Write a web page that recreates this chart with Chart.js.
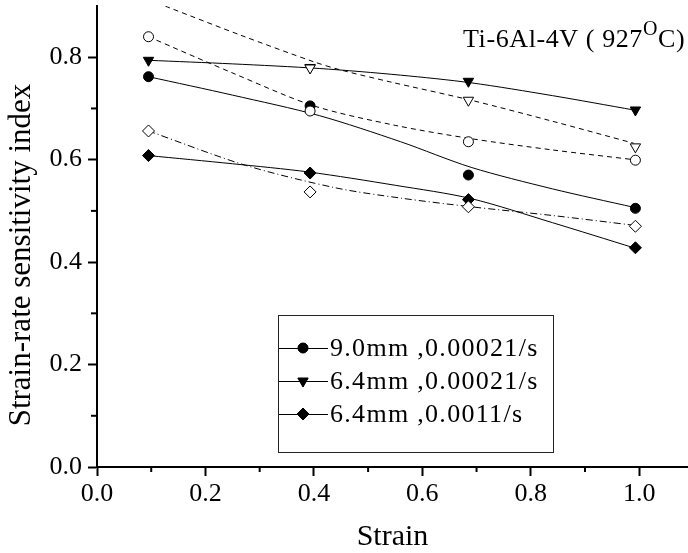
<!DOCTYPE html>
<html>
<head>
<meta charset="utf-8">
<script src="https://cdn.jsdelivr.net/npm/chart.js@4.4.1/dist/chart.umd.min.js"></script>
<style>
  html, body { margin: 0; padding: 0; background: #fff; }
  #wrap { width: 688px; height: 553px; position: relative; }
</style>
</head>
<body>
<div id="wrap"><canvas id="chart" width="688" height="553"></canvas></div>
<script>
const FONT = "'Liberation Serif', 'Times New Roman', serif";

// measured points (strain vs m)
const strainPts = [0.095, 0.393, 0.685, 0.993];
const fill90_21 = [0.762, 0.705, 0.570, 0.505];   // 9.0mm, 0.00021/s
const fill64_21 = [0.794, 0.780, 0.753, 0.697];   // 6.4mm, 0.00021/s
const fill64_11 = [0.608, 0.574, 0.522, 0.428];   // 6.4mm, 0.0011/s
const openCirc = [0.840, 0.695, 0.635, 0.599];
const openTri = [null, 0.779, 0.716, 0.625];
const openDiam = [0.656, 0.537, 0.508, 0.470];

// fitted curves
const fitCircX = [0.095, 0.25, 0.41, 0.56, 0.69, 0.84, 0.99];
const fitCircY = [0.762, 0.726, 0.686, 0.635, 0.585, 0.543, 0.507];
const fitTriX = [0.095, 0.25, 0.41, 0.56, 0.69, 0.84, 0.99];
const fitTriY = [0.794, 0.787, 0.778, 0.765, 0.750, 0.725, 0.697];
const fitDiamX = [0.095, 0.25, 0.39, 0.55, 0.69, 0.84, 0.99];
const fitDiamY = [0.608, 0.592, 0.576, 0.550, 0.524, 0.477, 0.428];
const fitOCircX = [0.095, 0.255, 0.40, 0.55, 0.69, 0.84, 0.99];
const fitOCircY = [0.840, 0.767, 0.705, 0.667, 0.641, 0.619, 0.600];
const fitOTriX = [0.095, 0.13, 0.265, 0.40, 0.45, 0.54, 0.69, 0.84, 0.99];
const fitOTriY = [0.912, 0.898, 0.843, 0.791, 0.775, 0.752, 0.716, 0.675, 0.632];
const fitODiamX = [0.095, 0.274, 0.44, 0.56, 0.69, 0.84, 0.99];
const fitODiamY = [0.656, 0.589, 0.545, 0.525, 0.508, 0.491, 0.472];

const xTicks = [0, 0.1, 0.2, 0.3, 0.4, 0.5, 0.6, 0.7, 0.8, 0.9, 1.0];
const yTicks = [0, 0.1, 0.2, 0.3, 0.4, 0.5, 0.6, 0.7, 0.8];

const legendLabels = ['9.0mm ,0.00021/s', '6.4mm ,0.00021/s', '6.4mm ,0.0011/s'];

function pts(xs, ys) {
  const out = [];
  xs.forEach(function(x, i) { if (ys[i] != null) out.push({x: x, y: ys[i]}); });
  return out;
}

function curve(xs, ys, dash, ord) {
  return {
    data: pts(xs, ys), showLine: true, borderColor: '#000', borderWidth: 1,
    borderDash: dash, pointRadius: 0, tension: 0.3, fill: false, order: ord
  };
}

function marks(ys, style, filled, r, rot, ord) {
  return {
    data: pts(strainPts, ys), showLine: false, pointStyle: style, pointRadius: r,
    pointRotation: rot, pointBackgroundColor: filled ? '#000' : '#fff',
    pointBorderColor: '#000', pointBorderWidth: 1, order: ord
  };
}

const isMajor = v => Math.round(v * 10) % 2 === 0;

// minor ticks, y title, inside title and legend box
const extras = {
  id: 'extras',
  afterDraw(chart) {
    const ctx = chart.ctx;
    const xs = chart.scales.x, ys = chart.scales.y;
    ctx.save();
    ctx.strokeStyle = '#000';
    ctx.lineWidth = 2;
    xTicks.forEach(v => {
      if (isMajor(v)) return;
      const px = xs.getPixelForValue(v);
      ctx.beginPath(); ctx.moveTo(px, xs.top); ctx.lineTo(px, xs.top + 5); ctx.stroke();
    });
    yTicks.forEach(v => {
      if (isMajor(v)) return;
      const py = ys.getPixelForValue(v);
      ctx.beginPath(); ctx.moveTo(ys.right, py); ctx.lineTo(ys.right - 6, py); ctx.stroke();
    });

    // y axis title
    ctx.fillStyle = '#000';
    ctx.font = '31px ' + FONT;
    ctx.textAlign = 'center';
    ctx.textBaseline = 'middle';
    ctx.translate(22, 255);
    ctx.rotate(-Math.PI / 2);
    ctx.fillText('Strain-rate sensitivity index', 0, 0);
    ctx.restore();

    // title inside the plot
    ctx.save();
    ctx.fillStyle = '#000';
    ctx.textBaseline = 'alphabetic';
    ctx.textAlign = 'left';
    ctx.letterSpacing = '0.6px';
    let x = 463, base = 47;
    ctx.font = '26px ' + FONT;
    const t1 = 'Ti-6Al-4V ( 927';
    ctx.fillText(t1, x, base);
    x += ctx.measureText(t1).width;
    ctx.font = '20px ' + FONT;
    ctx.fillText('O', x, base - 12);
    x += ctx.measureText('O').width;
    ctx.font = '26px ' + FONT;
    ctx.fillText('C)', x, base);
    ctx.restore();

    // legend
    ctx.save();
    ctx.strokeStyle = '#222';
    ctx.lineWidth = 1;
    ctx.strokeRect(278.5, 315.5, 275, 137);
    const styles = ['circle', 'triangle', 'rectRot'];
    const rads = [5, 6, 6];
    const rots = [0, 180, 0];
    legendLabels.forEach((lab, i) => {
      const y = 348 + i * 33;
      ctx.strokeStyle = '#000';
      ctx.lineWidth = 1;
      ctx.beginPath(); ctx.moveTo(279, y + 0.5); ctx.lineTo(328, y + 0.5); ctx.stroke();
      ctx.fillStyle = '#000';
      Chart.helpers.drawPoint(ctx, {pointStyle: styles[i], radius: rads[i], rotation: rots[i], borderWidth: 1}, 303, y);
      ctx.fill();
      ctx.font = '26px ' + FONT;
      ctx.letterSpacing = '1.3px';
      ctx.textAlign = 'left';
      ctx.textBaseline = 'middle';
      ctx.fillText(lab, 330, y + 1);
    });
    ctx.restore();
  }
};

new Chart(document.getElementById('chart'), {
  type: 'scatter',
  data: {
    datasets: [
      curve(fitCircX, fitCircY, [], 20),
      curve(fitTriX, fitTriY, [], 20),
      curve(fitDiamX, fitDiamY, [], 20),
      curve(fitOCircX, fitOCircY, [5, 4], 20),
      curve(fitOTriX, fitOTriY, [5, 4], 20),
      curve(fitODiamX, fitODiamY, [7, 3, 1, 3], 20),
      marks(fill90_21, 'circle', true, 5, 0, 10),
      marks(fill64_21, 'triangle', true, 6, 180, 10),
      marks(fill64_11, 'rectRot', true, 6, 0, 10),
      marks(openCirc, 'circle', false, 5, 0, 5),
      marks(openTri, 'triangle', false, 6, 180, 5),
      marks(openDiam, 'rectRot', false, 6, 0, 5)
    ]
  },
  options: {
    responsive: false,
    animation: false,
    layout: { autoPadding: false, padding: { top: 6, right: 0, left: 0, bottom: 0 } },
    plugins: { legend: { display: false }, tooltip: { enabled: false } },
    scales: {
      x: {
        type: 'linear', min: 0, max: 1.09,
        afterBuildTicks: s => { s.ticks = xTicks.map(v => ({value: v})); },
        afterFit: s => { s.height = 86; s.paddingLeft = 0; s.paddingRight = 0; },
        border: { display: true, color: '#000', width: 2 },
        grid: {
          drawOnChartArea: false, drawTicks: true, tickLength: 9, tickWidth: 2,
          tickColor: c => (c.tick && isMajor(c.tick.value)) ? '#000' : 'rgba(0,0,0,0)'
        },
        ticks: {
          color: '#000', padding: 3, maxRotation: 0, autoSkip: false,
          font: { family: FONT, size: 26 },
          callback: v => isMajor(v) ? v.toFixed(1) : ''
        },
        title: {
          display: true, text: 'Strain', color: '#000',
          font: { family: FONT, size: 30, lineHeight: 1 }, padding: { top: 0, bottom: 1 }
        }
      },
      y: {
        type: 'linear', min: 0, max: 0.9,
        afterBuildTicks: s => { s.ticks = yTicks.map(v => ({value: v})); },
        afterFit: s => { s.width = 97; s.paddingTop = 0; s.paddingBottom = 0; },
        border: { display: true, color: '#000', width: 2 },
        grid: {
          drawOnChartArea: false, drawTicks: true, tickLength: 9, tickWidth: 2,
          tickColor: c => (c.tick && isMajor(c.tick.value)) ? '#000' : 'rgba(0,0,0,0)'
        },
        ticks: {
          color: '#000', padding: 6, autoSkip: false,
          font: { family: FONT, size: 26 },
          callback: v => isMajor(v) ? v.toFixed(1) : ''
        }
      }
    }
  },
  plugins: [extras]
});
</script>
</body>
</html>
